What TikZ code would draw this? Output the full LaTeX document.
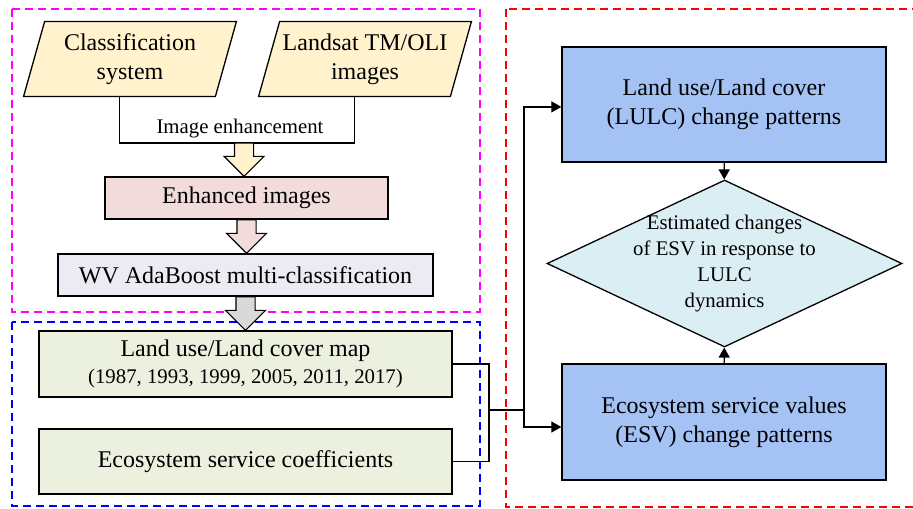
\documentclass[tikz,border=0pt]{standalone}
\usepackage{fontspec}
\setmainfont{Liberation Serif}
\usetikzlibrary{arrows.meta, shapes.geometric, positioning, calc, backgrounds}

\definecolor{inputYellow}{HTML}{FFF2CC}
\definecolor{enhPink}{HTML}{F2DCDB}
\definecolor{clsLavender}{HTML}{ECEAF2}
\definecolor{arrowGrey}{HTML}{D9D9D9}
\definecolor{mapGreen}{HTML}{EBF1DE}
\definecolor{changeBlue}{HTML}{A4C2F4}
\definecolor{esvCyan}{HTML}{DAEEF3}
\definecolor{groupMagenta}{HTML}{FF00FF}
\definecolor{groupBlue}{HTML}{0000FF}
\definecolor{groupRed}{HTML}{FF0000}

\newcommand{\fatarrow}[3]{%
  \draw[fat line, fill = #3] let \p1 = (#1), \p2 = (#2) in
    (\x1 - 4.8pt, \y1) -- (\x1 + 4.8pt, \y1) -- (\x1 + 4.8pt, \y2 + 10pt)
    -- (\x1 + 10pt, \y2 + 10pt) -- (\x1, \y2) -- (\x1 - 10pt, \y2 + 10pt)
    -- (\x1 - 4.8pt, \y2 + 10pt) -- cycle;}

\newcommand{\inputshape}[1]{%
  \filldraw[input line] ([xshift = -5.25pt]#1.south west) -- ([xshift = 5.25pt]#1.north west)
    -- ([xshift = 5.25pt]#1.north east) -- ([xshift = -5.25pt]#1.south east) -- cycle;}

\begin{document}
\begin{tikzpicture}[
        x = 0.5pt, y = -0.5pt,
        >= {Triangle[length = 5pt, width = 5.5pt]},
        big text/.style = {font = \fontsize{12}{14.5}\selectfont, align = center},
        small text/.style = {font = \fontsize{10.4}{12.8}\selectfont, align = center},
        input/.style = {rectangle, minimum width = 95.5pt, minimum height = 37pt,
            inner sep = 0pt, big text},
        input line/.style = {draw, line width = 0.65pt, fill = inputYellow},
        box/.style = {rectangle, draw, line width = 0.65pt, inner sep = 0pt, big text},
        link/.style = {draw, line width = 0.6pt},
        fat line/.style = {draw, line width = 0.6pt},
        group/.style = {dash pattern = on 4pt off 2.5pt, line width = 1pt}
    ]
      \useasboundingbox (0,0) rectangle (913,508);

      \draw[group, groupMagenta] (12,9) rectangle (480,312);
      \draw[group, groupBlue] (12,322) rectangle (480,506);
      \draw[group, groupRed] (506,9) rectangle (930,507);

      \node[input] (cls) at (130,59) {Classification\\system};
      \node[input] (lds) at (365,59) {Landsat TM/OLI\\images};
      \begin{scope}[on background layer]
        \inputshape{cls}
        \inputshape{lds}
      \end{scope}

      \coordinate (enhin) at (244,143);
      \draw[link] ([xshift = -5.25pt]cls.south) |- (enhin) -| ([xshift = -5.25pt]lds.south);
      \node[small text, above = -1pt of enhin, xshift = -2pt] (enhlbl) {Image enhancement};

      \node[box, fill = enhPink, minimum width = 141.5pt, minimum height = 21pt]
        (enh) at (246.5,198) {Enhanced images};
      \node[box, fill = clsLavender, minimum width = 187.5pt, minimum height = 21pt]
        (wv) at (245.5,275) {WV AdaBoost multi-classification};
      \node[box, fill = mapGreen, minimum width = 206.5pt, minimum height = 33pt]
        (lmap) at (245.5,364) {Land use/Land cover map\\[-1pt]{\fontsize{10.4}{12}\selectfont (1987, 1993, 1999, 2005, 2011, 2017)}};
      \node[box, fill = mapGreen, minimum width = 206.5pt, minimum height = 32.5pt]
        (esc) at (245.5,461.5) {Ecosystem service coefficients};

      \fatarrow{enhin}{enh.north}{inputYellow}
      \fatarrow{enh.south}{wv.north}{enhPink}
      \fatarrow{wv.south}{lmap.north}{arrowGrey}

      \node[box, fill = changeBlue, minimum width = 162pt, minimum height = 57.5pt]
        (lulc) at (724,104.5) {Land use/Land cover\\(LULC) change patterns};
      \node[diamond, draw, line width = 0.65pt, fill = esvCyan, inner sep = 0pt,
        minimum width = 177.5pt, minimum height = 83.5pt] (dia) at (724.5,263.5) {};
      \node[small text, font = \fontsize{10.4}{13}\selectfont] (diat) at (dia.center)
        {Estimated changes\\of ESV in response to\\LULC\\dynamics};
      \node[box, fill = changeBlue, minimum width = 162pt, minimum height = 58pt]
        (esv) at (724,422) {Ecosystem service values\\(ESV) change patterns};

      \coordinate (bus) at (489,410);
      \coordinate (split) at (524,410);
      \draw[link] (lmap.east) -| (bus) |- (esc.east);
      \draw[link] (bus) -- (split);
      \draw[link, ->] (split) |- ([yshift = -1.2pt]lulc.west);
      \draw[link, ->] (split) |- ([yshift = -2.5pt]esv.west);
      \draw[link, ->] (lulc) -- (dia);
      \draw[link, ->] (esv) -- (dia);
    \end{tikzpicture}
\end{document}
